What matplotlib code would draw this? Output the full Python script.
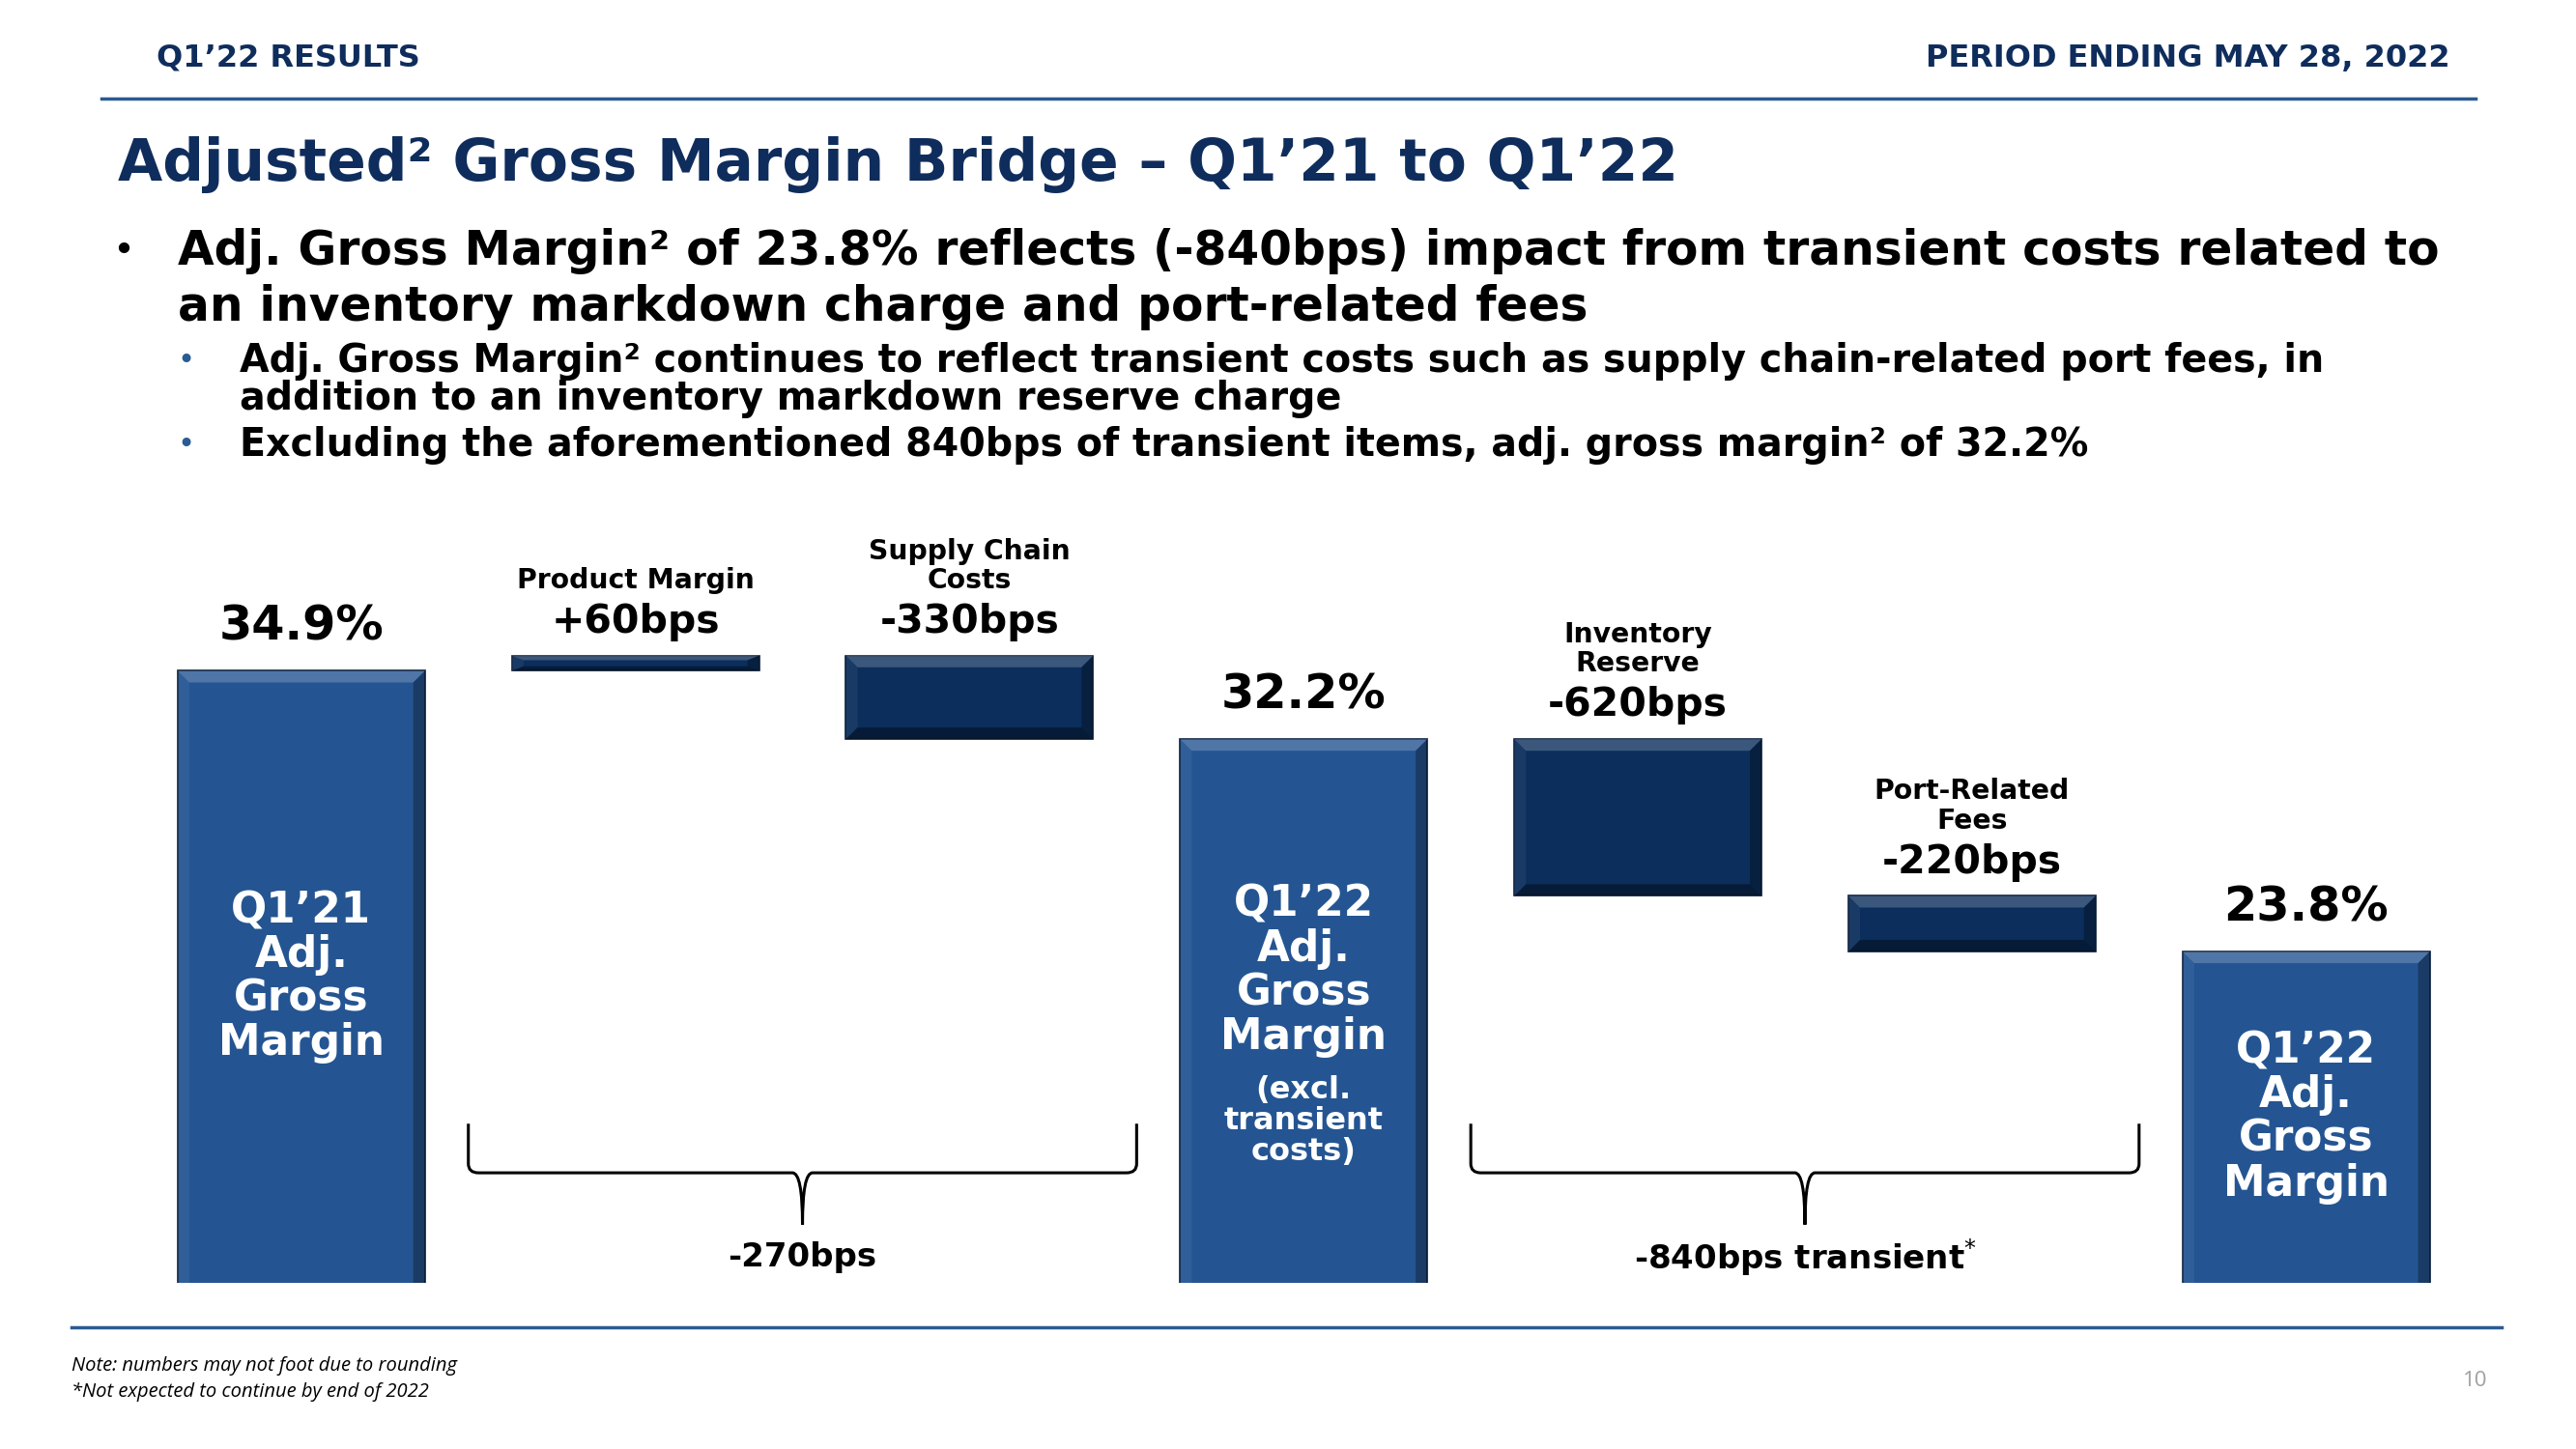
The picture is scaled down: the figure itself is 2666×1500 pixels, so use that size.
import numpy as np
import matplotlib.pyplot as plt
import matplotlib.transforms as mtransforms
from matplotlib.patches import Polygon, PathPatch
from matplotlib.path import Path
from matplotlib.lines import Line2D

# данные моста валовой маржи
steps = ["Q1'21 Adj. Gross Margin", "Product Margin", "Supply Chain Costs",
         "Q1'22 Adj. Gross Margin (excl. transient costs)", "Inventory Reserve",
         "Port-Related Fees", "Q1'22 Adj. Gross Margin"]
kinds = ["total", "delta", "delta", "total", "delta", "delta", "total"]
values = [34.9, 0.6, -3.3, 32.2, -6.2, -2.2, 23.8]
value_labels = ["34.9%", "+60bps", "-330bps", "32.2%", "-620bps", "-220bps", "23.8%"]
delta_titles = [None, "Product Margin", "Supply Chain\nCosts", None,
                "Inventory\nReserve", "Port-Related\nFees", None]
bar_texts = ["Q1’21\nAdj.\nGross\nMargin", None, None, "Q1’22\nAdj.\nGross\nMargin",
             None, None, "Q1’22\nAdj.\nGross\nMargin"]
bridges = [(1, 2, "-270bps"), (4, 5, "-840bps transient$^{*}$")]

NAVY = '#0f2d5c'
LINE = '#2a5b93'
MAIN = '#245592'
DELTA = '#0b2e5c'

fig = plt.figure(figsize=(26.66, 15), dpi=100)
fig.patch.set_facecolor('white')

# шапка
fig.text(0.0608, 0.96, "Q1’22 RESULTS", fontsize=23, fontweight='bold', color=NAVY,
         ha='left', va='center')
fig.text(0.951, 0.96, "PERIOD ENDING MAY 28, 2022", fontsize=23, fontweight='bold',
         color=NAVY, ha='right', va='center')
fig.add_artist(Line2D([0.0394, 0.961], [0.932, 0.932], color=LINE, lw=2.5,
                      transform=fig.transFigure))
fig.text(0.0458, 0.886, "Adjusted² Gross Margin Bridge – Q1’21 to Q1’22", fontsize=43,
         fontweight='bold', color=NAVY, ha='left', va='center')

# пункты
fig.text(0.0478, 0.8267, "•", fontsize=28, color='black', ha='center', va='center')
fig.text(0.069, 0.8267, "Adj. Gross Margin² of 23.8% reflects (-840bps) impact from transient costs related to",
         fontsize=35, fontweight='bold', ha='left', va='center')
fig.text(0.069, 0.788, "an inventory markdown charge and port-related fees",
         fontsize=35, fontweight='bold', ha='left', va='center')
fig.text(0.072, 0.7507, "•", fontsize=22, color=LINE, ha='center', va='center')
fig.text(0.093, 0.7507, "Adj. Gross Margin² continues to reflect transient costs such as supply chain-related port fees, in",
         fontsize=28.5, fontweight='bold', ha='left', va='center')
fig.text(0.093, 0.7247, "addition to an inventory markdown reserve charge",
         fontsize=28.5, fontweight='bold', ha='left', va='center')
fig.text(0.072, 0.6927, "•", fontsize=22, color=LINE, ha='center', va='center')
fig.text(0.093, 0.6927, "Excluding the aforementioned 840bps of transient items, adj. gross margin² of 32.2%",
         fontsize=28.5, fontweight='bold', ha='left', va='center')

# график
ax = fig.add_axes([0.0521, 0.1147, 0.908, 0.5253])
x = np.arange(len(values))
bottoms, heights, colors = [], [], []
running = 0.0
for k, v in zip(kinds, values):
    if k == "total":
        running = v
        bottoms.append(0.0)
        heights.append(v)
        colors.append(MAIN)
    else:
        bottoms.append(min(running, running + v))
        heights.append(abs(v))
        running += v
        colors.append(DELTA)

ymin, ymax = 10.7, 40.8
bars = ax.bar(x, heights, bottom=bottoms, width=0.74, color=colors,
              edgecolor='#0a1f3d', linewidth=1.2, zorder=2)
ax.set_xlim(-0.5, 6.5)
ax.set_ylim(ymin, ymax)
ax.axis('off')


def bevel(rect):
    x0, y0 = rect.get_x(), rect.get_y()
    x1, y1 = x0 + rect.get_width(), y0 + rect.get_height()
    bx = 0.035
    by = min(0.46, rect.get_height() * 0.3)
    parts = [
        ([(x0, y1), (x1, y1), (x1 - bx, y1 - by), (x0 + bx, y1 - by)], 'white', 0.2),
        ([(x0, y0), (x1, y0), (x1 - bx, y0 + by), (x0 + bx, y0 + by)], 'black', 0.4),
        ([(x0, y0), (x0, y1), (x0 + bx, y1 - by), (x0 + bx, y0 + by)], 'white', 0.06),
        ([(x1, y0), (x1, y1), (x1 - bx, y1 - by), (x1 - bx, y0 + by)], 'black', 0.3),
    ]
    for pts, c, a in parts:
        ax.add_patch(Polygon(pts, closed=True, facecolor=c, alpha=a, lw=0, zorder=3))


for b in bars:
    bevel(b)

for i, b in enumerate(bars):
    top = b.get_y() + b.get_height()
    xc = b.get_x() + b.get_width() / 2
    if kinds[i] == "total":
        ax.annotate(value_labels[i], (xc, top), xytext=(0, 33), textcoords='offset points',
                    ha='center', va='center', fontsize=35.5, fontweight='bold')
        mid = (top + ymin) / 2
        if i == 3:
            ax.annotate(bar_texts[i], (xc, mid), xytext=(0, 30), textcoords='offset points',
                        ha='center', va='center', fontsize=31.5, fontweight='bold',
                        color='white', linespacing=1.08, zorder=4)
            ax.annotate("(excl.\ntransient\ncosts)", (xc, mid), xytext=(0, -82),
                        textcoords='offset points', ha='center', va='center', fontsize=23,
                        fontweight='bold', color='white', linespacing=1.05, zorder=4)
        else:
            ax.annotate(bar_texts[i], (xc, mid), ha='center', va='center', fontsize=31.5,
                        fontweight='bold', color='white', linespacing=1.08, zorder=4)
    else:
        ax.annotate(value_labels[i], (xc, top), xytext=(0, 25), textcoords='offset points',
                    ha='center', va='center', fontsize=29.5, fontweight='bold')
        ax.annotate(delta_titles[i], (xc, top), xytext=(0, 46), textcoords='offset points',
                    ha='center', va='bottom', fontsize=20.3, fontweight='bold', linespacing=1.1)

# фигурные скобки
trans = mtransforms.blended_transform_factory(ax.transData, ax.transAxes)


def brace(xa, xb, label, ytop=0.209, yline=0.1445, ytip=0.0764, ylab=0.0332):
    xm = (xa + xb) / 2
    rx, ry = 0.03, 0.012
    verts = [(xa, ytop), (xa, yline + ry), (xa, yline), (xa + rx, yline),
             (xm - rx, yline), (xm, yline), (xm, ytip),
             (xm, yline), (xm + rx, yline),
             (xb - rx, yline), (xb, yline), (xb, yline + ry), (xb, ytop)]
    codes = [Path.MOVETO, Path.LINETO, Path.CURVE3, Path.CURVE3,
             Path.LINETO, Path.CURVE3, Path.CURVE3,
             Path.CURVE3, Path.CURVE3,
             Path.LINETO, Path.CURVE3, Path.CURVE3, Path.LINETO]
    ax.add_patch(PathPatch(Path(verts, codes), fill=False, lw=2.2, edgecolor='black',
                           transform=trans, zorder=2))
    ax.text(xm, ylab, label, transform=trans, ha='center', va='center',
            fontsize=24.5, fontweight='bold')


for a, b, lab in bridges:
    brace(a - 0.5, b + 0.5, lab)

# подвал
fig.add_artist(Line2D([0.0278, 0.971], [0.084, 0.084], color=LINE, lw=2.5,
                      transform=fig.transFigure))
fig.text(0.0278, 0.0572, "Note: numbers may not foot due to rounding", fontsize=14.5,
         style='italic', family='Open Sans', ha='left', va='center')
fig.text(0.0278, 0.0392, "*Not expected to continue by end of 2022", fontsize=14.5,
         style='italic', family='Open Sans', ha='left', va='center')
fig.text(0.961, 0.047, "10", fontsize=16, color='#a0a0a0', ha='center', va='center',
         family='Open Sans')

plt.savefig('out.png', dpi=100, facecolor='white')
